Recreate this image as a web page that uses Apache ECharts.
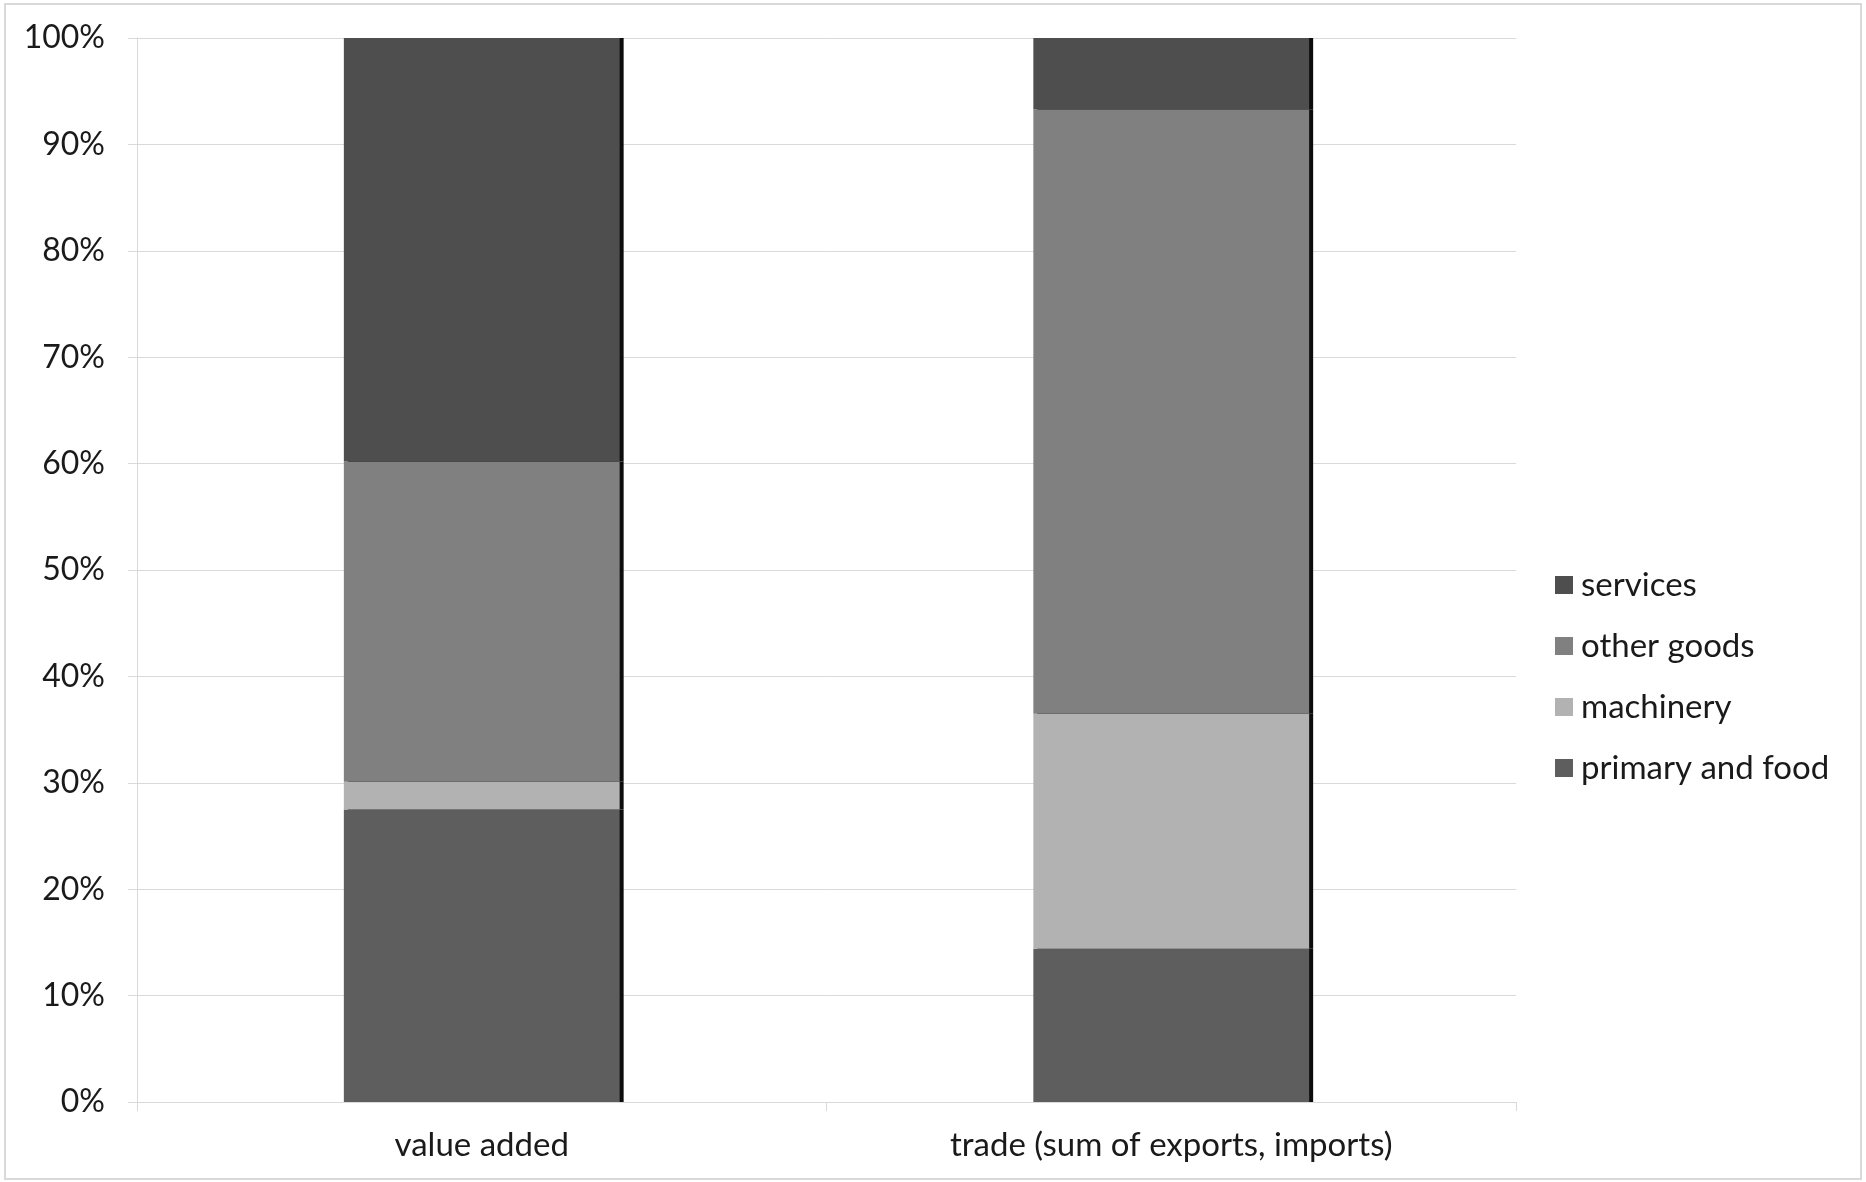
<!DOCTYPE html>
<html>
<head>
<meta charset="utf-8">
<script src="https://cdn.jsdelivr.net/npm/echarts@6/dist/echarts.min.js"></script>
<style>
  html, body { margin: 0; padding: 0; background: #ffffff; }
  #chart { width: 1866px; height: 1182px; }
</style>
</head>
<body>
<div id="chart"></div>
<script>
// Composition shares (%) for each column
const categories = ['value added', 'trade (sum of exports, imports)'];
const primaryAndFood = [27.5, 14.4];
const machinery = [2.6, 22.1];
const otherGoods = [30.1, 56.8];
const services = [39.8, 6.7];
const yTicks = [0, 10, 20, 30, 40, 50, 60, 70, 80, 90, 100];

const FONT = 'Lato, "Open Sans", sans-serif';
const TEXT = '#1a1a1a';

function segment(name, data, color) {
  return {
    name: name,
    type: 'bar',
    stack: 'total',
    barWidth: '40%',
    data: data,
    itemStyle: {
      color: color,
      shadowColor: 'rgba(0,0,0,0.95)',
      shadowBlur: 0,
      shadowOffsetX: 4,
      shadowOffsetY: 0
    },
    emphasis: { disabled: true }
  };
}

const chart = echarts.init(document.getElementById('chart'), null, { renderer: 'canvas' });
chart.setOption({
  animation: false,
  backgroundColor: '#ffffff',
  graphic: [{
    type: 'rect',
    shape: { x: 5, y: 4, width: 1856, height: 1175 },
    style: { fill: 'none', stroke: '#d9d9d9', lineWidth: 2 },
    silent: true
  }],
  grid: { left: 137, right: 350, top: 38, bottom: 80, containLabel: false },
  legend: {
    orient: 'vertical',
    left: 1550,
    top: 563,
    itemWidth: 18,
    itemHeight: 18,
    itemGap: 27,
    icon: 'rect',
    data: ['services', 'other goods', 'machinery', 'primary and food'],
    textStyle: { fontFamily: FONT, fontSize: 33, color: TEXT, lineHeight: 34, padding: [0, 0, 0, 3] }
  },
  xAxis: {
    type: 'category',
    data: categories,
    axisLine: { show: true, lineStyle: { color: '#d9d9d9', width: 1 } },
    axisTick: { show: true, alignWithLabel: false, length: 9, lineStyle: { color: '#d9d9d9' } },
    axisLabel: { fontFamily: FONT, fontSize: 33, color: TEXT, margin: 27 },
    splitLine: { show: false }
  },
  yAxis: {
    type: 'value',
    min: 0,
    max: 100,
    interval: 10,
    axisLine: { show: true, lineStyle: { color: '#d9d9d9', width: 1 } },
    axisTick: { show: true, length: 9, lineStyle: { color: '#d9d9d9' } },
    axisLabel: {
      fontFamily: FONT, fontSize: 32, color: TEXT, margin: 32,
      formatter: function (v) { return yTicks.indexOf(v) >= 0 ? v + '%' : ''; }
    },
    splitLine: { show: true, lineStyle: { color: '#d9d9d9', width: 1 } }
  },
  series: [
    segment('primary and food', primaryAndFood, '#5e5e5e'),
    segment('machinery', machinery, '#b2b2b2'),
    segment('other goods', otherGoods, '#808080'),
    segment('services', services, '#4e4e4e')
  ]
});
</script>
</body>
</html>
